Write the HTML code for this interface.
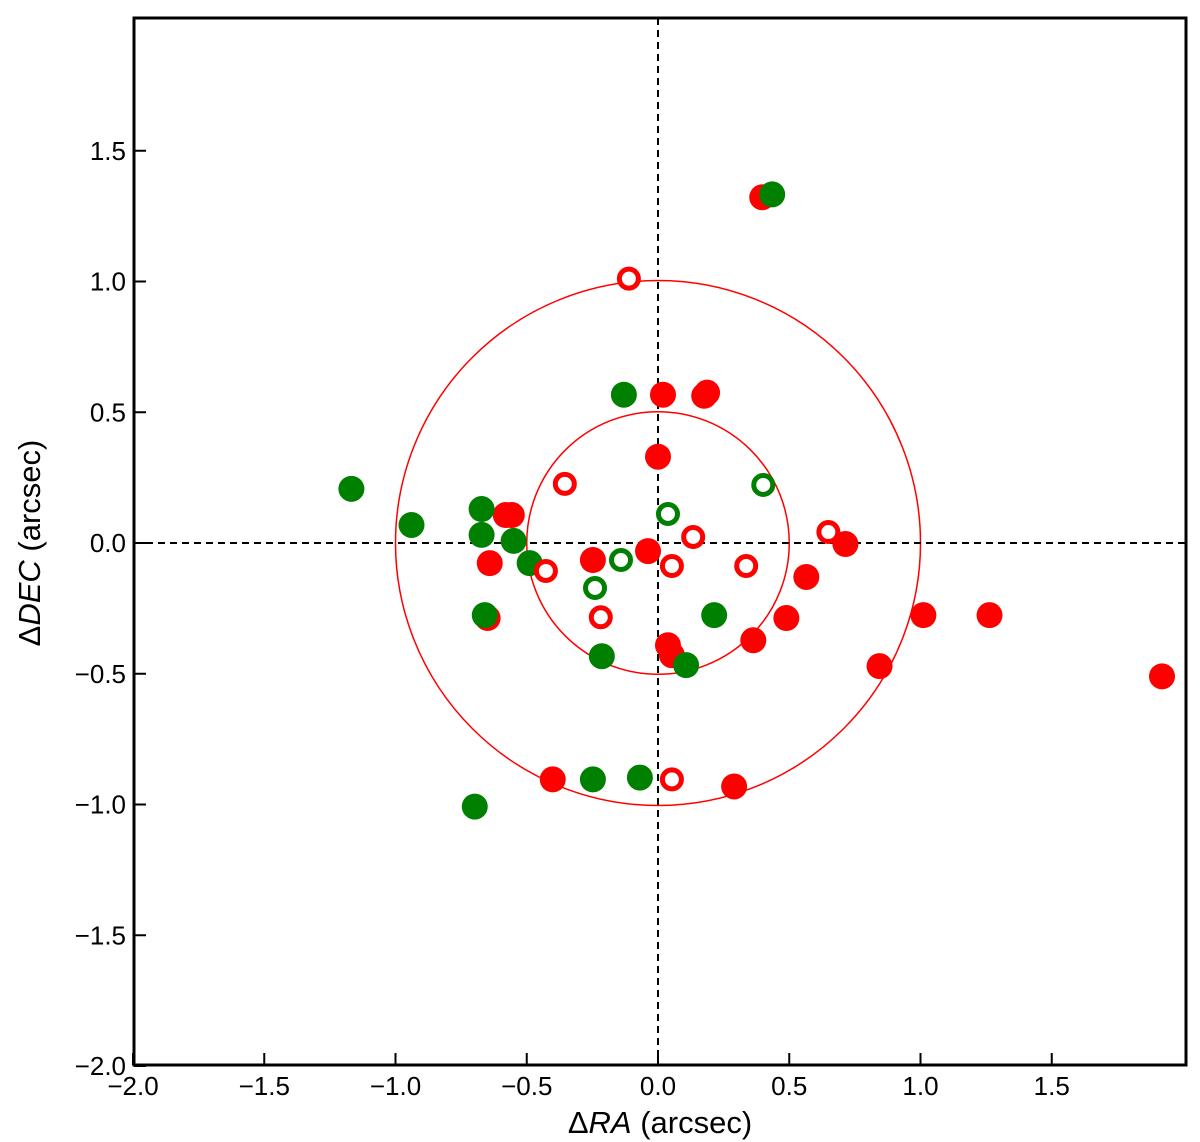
<!DOCTYPE html>
<html><head><meta charset="utf-8"><style>body{margin:0;background:#fff}svg{display:block;font-family:"Liberation Sans","DejaVu Sans",sans-serif}</style></head>
<body>
<svg id="chart" width="1200" height="1142" viewBox="0 0 1200 1142" xmlns="http://www.w3.org/2000/svg">
<g id="axes"></g>
</svg>
<script>
const xTicks=[-2.0,-1.5,-1.0,-0.5,0.0,0.5,1.0,1.5];
const yTicks=[-2.0,-1.5,-1.0,-0.5,0.0,0.5,1.0,1.5];
const xTickLabels=["\u22122.0","\u22121.5","\u22121.0","\u22120.5","0.0","0.5","1.0","1.5"];
const yTickLabels=["\u22122.0","\u22121.5","\u22121.0","\u22120.5","0.0","0.5","1.0","1.5"];
const ringRadii=[0.5,1.0];
const redFilledRA=[0.397,0.019,0.176,0.187,0,-0.58,-0.557,-0.641,-0.649,-0.248,-0.038,0.714,0.565,0.489,0.363,0.038,0.053,1.011,1.263,0.844,1.92,-0.401,0.29];
const redFilledDEC=[1.322,0.567,0.563,0.575,0.33,0.107,0.107,-0.077,-0.287,-0.065,-0.031,-0.004,-0.13,-0.287,-0.372,-0.391,-0.429,-0.276,-0.276,-0.471,-0.51,-0.904,-0.931];
const greenFilledRA=[0.435,-0.13,-1.168,-0.939,-0.672,-0.672,-0.55,-0.489,-0.66,-0.214,0.214,0.107,-0.248,-0.069,-0.698];
const greenFilledDEC=[1.333,0.567,0.207,0.069,0.13,0.031,0.008,-0.077,-0.276,-0.433,-0.276,-0.467,-0.904,-0.897,-1.008];
const redOpenRA=[-0.111,-0.355,-0.427,-0.218,0.053,0.134,0.336,0.649,0.053];
const redOpenDEC=[1.011,0.226,-0.107,-0.284,-0.088,0.023,-0.088,0.042,-0.904];
const greenOpenRA=[0.401,0.038,-0.141,-0.24];
const greenOpenDEC=[0.222,0.111,-0.065,-0.172];

const L=134,R=1186,T=18,B=1065;
const x=v=>658+v*262.5;
const y=v=>543-v*261.5;
const NS="http://www.w3.org/2000/svg";
const svg=document.getElementById('chart');
function mk(tag,attrs,parent){const e=document.createElementNS(NS,tag);for(const k in attrs)e.setAttribute(k,attrs[k]);(parent||svg).appendChild(e);return e;}

// rings
ringRadii.forEach((r,i)=>{
  const c=mk('circle',{cx:x(0),cy:y(0),r:(x(r)-x(0)),fill:'none',stroke:'#ff0000','stroke-width':1.5});
  
  
});
// dashed zero lines
let zl=mk('line',{x1:x(0),x2:x(0),y1:T,y2:B,stroke:'#000','stroke-width':2,'stroke-dasharray':'7,5'});


zl=mk('line',{x1:L,x2:R,y1:y(0),y2:y(0),stroke:'#000','stroke-width':2,'stroke-dasharray':'7,5'});



function filled(ra,dec,color,name){
  ra.forEach((v,i)=>{
    const c=mk('circle',{cx:x(v),cy:y(dec[i]),r:13,fill:color});
    
    
  });
}
function open(ra,dec,color,name){
  ra.forEach((v,i)=>{
    const c=mk('circle',{cx:x(v),cy:y(dec[i]),r:9.5,fill:'#fff',stroke:color,'stroke-width':5});
    
    
  });
}
filled(redFilledRA,redFilledDEC,'#ff0000','red-filled-point');
filled(greenFilledRA,greenFilledDEC,'#008000','green-filled-point');
open(redOpenRA,redOpenDEC,'#ff0000','red-open-point');
open(greenOpenRA,greenOpenDEC,'#008000','green-open-point');

// frame
const fr=mk('rect',{x:L,y:T,width:R-L,height:B-T,fill:'none',stroke:'#000','stroke-width':3});



xTicks.forEach((v,i)=>{
  mk('line',{x1:x(v),x2:x(v),y1:B,y2:B-12,stroke:'#000','stroke-width':2});
  const t=mk('text',{x:x(v),y:B+30,'text-anchor':'middle','font-size':26});
  t.textContent=xTickLabels[i];
  
  
});
yTicks.forEach((v,i)=>{
  mk('line',{x1:L,x2:L+12,y1:y(v),y2:y(v),stroke:'#000','stroke-width':2});
  const t=mk('text',{x:L-8,y:y(v)+9,'text-anchor':'end','font-size':26});
  t.textContent=yTickLabels[i];
  
  
});
const xl=mk('text',{x:660,y:1133,'text-anchor':'middle','font-size':31});
xl.innerHTML='\u0394<tspan font-style="italic">RA</tspan> (arcsec)';


const yl=mk('text',{x:0,y:0,'text-anchor':'middle','font-size':31,transform:'translate(40,543) rotate(-90)'});
yl.innerHTML='\u0394<tspan font-style="italic">DEC</tspan> (arcsec)';


</script>
</body></html>
